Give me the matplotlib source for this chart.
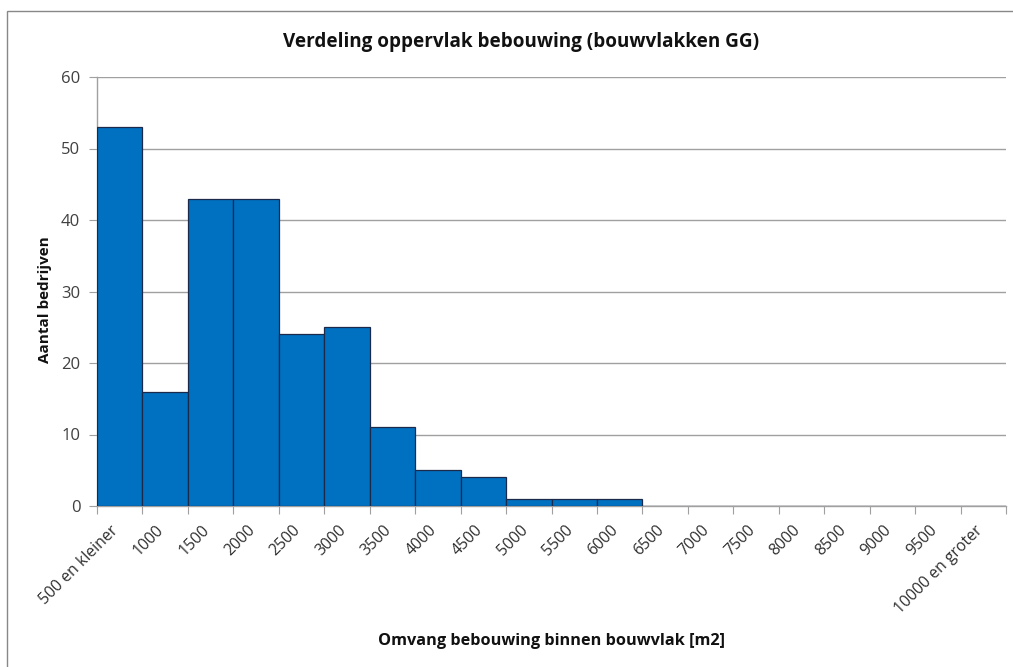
import matplotlib
matplotlib.use("Agg")
import matplotlib.pyplot as plt
from matplotlib.patches import Rectangle

categories = ["500 en kleiner", "1000", "1500", "2000", "2500", "3000", "3500",
              "4000", "4500", "5000", "5500", "6000", "6500", "7000", "7500",
              "8000", "8500", "9000", "9500", "10000 en groter"]
counts = [53, 16, 43, 43, 24, 25, 11, 5, 4, 1, 1, 1, 0, 0, 0, 0, 0, 0, 0, 0]
yticks = [0, 10, 20, 30, 40, 50, 60]

plt.rcParams['font.family'] = ['Open Sans', 'DejaVu Sans']

W, H = 1013, 667
fig = plt.figure(figsize=(W / 100, H / 100), dpi=100)
ax = fig.add_axes([97 / W, 1 - 506 / H, (1006 - 97) / W, (506 - 77) / H])

x = list(range(len(categories)))
ax.bar(x, counts, width=1.0, align='edge', color='#0070C0',
       edgecolor='#1b2a4a', linewidth=0.9, zorder=3)

ax.set_xlim(0, len(categories))
ax.set_ylim(0, 60)
ax.set_yticks(yticks)
ax.set_yticklabels([str(v) for v in yticks], fontsize=12, color='#404040')
ax.yaxis.grid(True, color='#a0a0a0', linewidth=1.0, zorder=0)
ax.tick_params(axis='y', length=6, color='#a0a0a0', pad=6)

# boundary ticks
ax.set_xticks(list(range(len(categories) + 1)))
ax.set_xticklabels([])
ax.tick_params(axis='x', length=6, color='#a0a0a0')
for i, lab in enumerate(categories):
    ax.text(i + 0.3, -2.3, lab, rotation=45, ha='right', va='top',
            rotation_mode='anchor', fontsize=11.3, color='#303030',
            transform=ax.transData)

for s in ['top', 'right']:
    ax.spines[s].set_visible(False)
for s in ['left', 'bottom']:
    ax.spines[s].set_color('#a0a0a0')
    ax.spines[s].set_linewidth(1.0)

fig.text(521 / W, 1 - 42 / H, "Verdeling oppervlak bebouwing (bouwvlakken GG)",
         ha='center', va='center', fontsize=13.6, fontweight='bold', color='#111111')
fig.text(45 / W, 1 - 300 / H, "Aantal bedrijven", rotation=90, ha='center',
         va='center', fontsize=11, fontweight='bold', color='#111111')
fig.text(551 / W, 1 - 641 / H, "Omvang bebouwing binnen bouwvlak [m2]",
         ha='center', va='center', fontsize=11.7, fontweight='bold', color='#111111')

fig.patches.append(Rectangle((7 / W, -0.1), 1.2, 1 - 11 / H + 0.1,
                             transform=fig.transFigure, fill=False,
                             edgecolor='#888888', linewidth=1.0))

fig.savefig("out.png", dpi=100)
